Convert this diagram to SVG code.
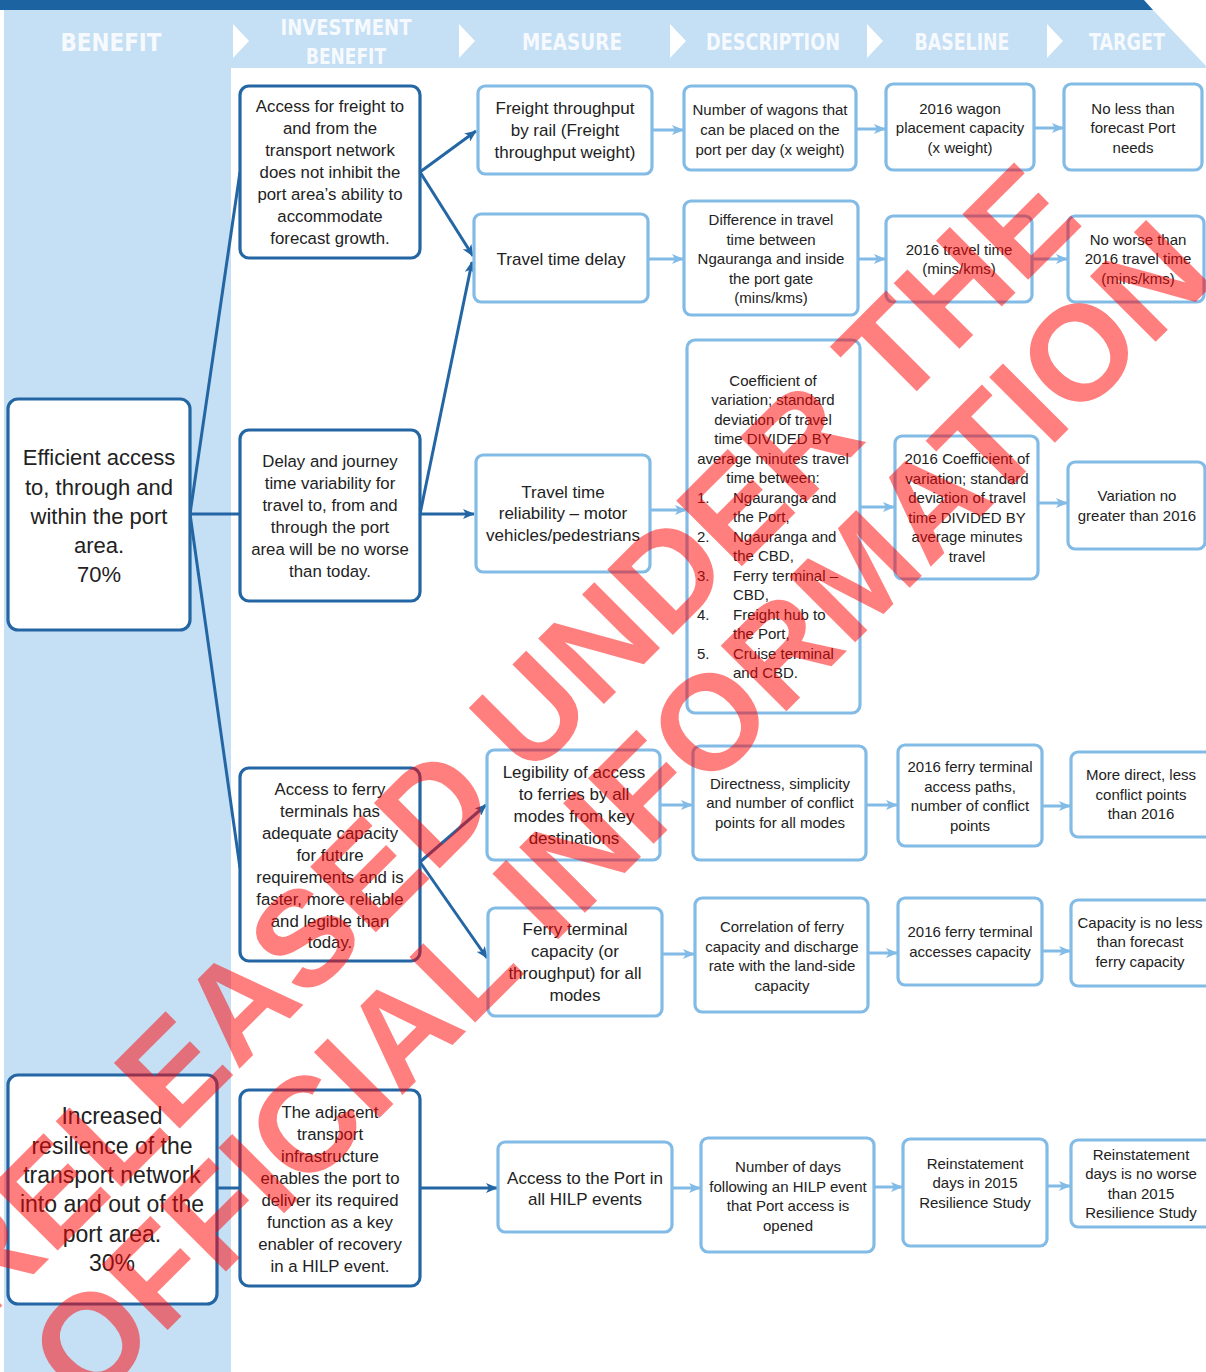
<svg xmlns="http://www.w3.org/2000/svg" width="1206" height="1372" viewBox="0 0 1206 1372">
<defs>
<style>
.dk{fill:#fff;stroke:#2466a3;stroke-width:3.2}
.lt{fill:#fff;stroke:#82bbe6;stroke-width:3.2}
.t{font-family:'Liberation Sans',Arial,sans-serif;fill:#222;text-anchor:middle}
.b22{font-size:22px}
.b23{font-size:23px}
.i{font-size:16.8px}
.m{font-size:17px}
.s{font-size:15px}
.ls{font-family:'Liberation Sans',Arial,sans-serif;fill:#222;font-size:15px}
.hd{font-family:'Liberation Sans Narrow','DejaVu Sans Condensed',sans-serif;fill:#f6fafe;font-weight:bold;text-anchor:middle}
.cd{fill:none;stroke:#2466a3;stroke-width:3}
.cl{fill:none;stroke:#82bbe6;stroke-width:3}
.wm{font-family:'Liberation Sans',Arial,sans-serif;font-weight:bold;font-size:135px;fill:#ff0000;fill-opacity:0.5}
</style>
<marker id="ad" viewBox="0 0 12 10" refX="11" refY="5" markerWidth="12" markerHeight="10" markerUnits="userSpaceOnUse" orient="auto"><path d="M0,0 L12,5 L0,10 L3,5 z" fill="#2466a3"/></marker>
<marker id="al" viewBox="0 0 12 10" refX="11" refY="5" markerWidth="12" markerHeight="12" markerUnits="userSpaceOnUse" orient="auto"><path d="M0,0 L12,5 L0,10 L3,5 z" fill="#82bbe6"/></marker>
</defs>

<g id="background">
<rect x="0" y="0" width="1206" height="1372" fill="#fff"/>
<rect x="4" y="10" width="227" height="1362" fill="#c5dff4"/>
<polygon points="4,10 1153,10 1206,66 1206,68 4,68" fill="#c5dff4"/>
<polygon points="0,0 1144,0 1153,10 0,10" fill="#1c63a2"/>
</g>

<g id="header">
<polygon points="233,24 249,41 233,58" fill="#fff"/>
<polygon points="459,24 475,41 459,58" fill="#fff"/>
<polygon points="670,24 686,41 670,58" fill="#fff"/>
<polygon points="867,24 883,41 867,58" fill="#fff"/>
<polygon points="1047,24 1063,41 1047,58" fill="#fff"/>
<text class="hd" x="111" y="51" font-size="25" textLength="101" lengthAdjust="spacingAndGlyphs">BENEFIT</text>
<text class="hd" x="346" y="35" font-size="21" textLength="131" lengthAdjust="spacingAndGlyphs">INVESTMENT</text>
<text class="hd" x="346" y="64" font-size="21" textLength="80" lengthAdjust="spacingAndGlyphs">BENEFIT</text>
<text class="hd" x="572" y="50" font-size="23" textLength="100" lengthAdjust="spacingAndGlyphs">MEASURE</text>
<text class="hd" x="773" y="50" font-size="23" textLength="134" lengthAdjust="spacingAndGlyphs">DESCRIPTION</text>
<text class="hd" x="962" y="50" font-size="23" textLength="95" lengthAdjust="spacingAndGlyphs">BASELINE</text>
<text class="hd" x="1127" y="50" font-size="23" textLength="76" lengthAdjust="spacingAndGlyphs">TARGET</text>
</g>

<g id="connectors">
<path class="cd" d="M190,514 L240,172"/>
<path class="cd" d="M190,514 L240,514"/>
<path class="cd" d="M190,514 L240,868"/>
<path class="cd" d="M217,1188 L240,1188"/>
<path class="cd" d="M420,172 L476,131" marker-end="url(#ad)"/>
<path class="cd" d="M420,172 L473,256" marker-end="url(#ad)"/>
<path class="cd" d="M420,514 L472,262" marker-end="url(#ad)"/>
<path class="cd" d="M420,514 L474,514" marker-end="url(#ad)"/>
<path class="cd" d="M420,862 L486,805" marker-end="url(#ad)"/>
<path class="cd" d="M420,862 L487,958" marker-end="url(#ad)"/>
<path class="cd" d="M420,1188 L497,1188" marker-end="url(#ad)"/>
<path class="cl" d="M652,130 L683,130" marker-end="url(#al)"/>
<path class="cl" d="M856,129 L885,129" marker-end="url(#al)"/>
<path class="cl" d="M1034,128 L1063,128" marker-end="url(#al)"/>
<path class="cl" d="M648,259 L683,259" marker-end="url(#al)"/>
<path class="cl" d="M858,259 L885,259" marker-end="url(#al)"/>
<path class="cl" d="M1032,259 L1067,259" marker-end="url(#al)"/>
<path class="cl" d="M650,510 L686,510" marker-end="url(#al)"/>
<path class="cl" d="M860,507 L894,507" marker-end="url(#al)"/>
<path class="cl" d="M1038,503 L1067,503" marker-end="url(#al)"/>
<path class="cl" d="M660,805 L692,805" marker-end="url(#al)"/>
<path class="cl" d="M866,805 L897,805" marker-end="url(#al)"/>
<path class="cl" d="M1042,806 L1070,806" marker-end="url(#al)"/>
<path class="cl" d="M662,954 L694,954" marker-end="url(#al)"/>
<path class="cl" d="M868,953 L897,953" marker-end="url(#al)"/>
<path class="cl" d="M1042,951 L1070,951" marker-end="url(#al)"/>
<path class="cl" d="M672,1188 L700,1188" marker-end="url(#al)"/>
<path class="cl" d="M874,1187 L902,1187" marker-end="url(#al)"/>
<path class="cl" d="M1047,1186 L1070,1186" marker-end="url(#al)"/>
</g>

<g id="benefit-efficient">
<rect class="dk" x="8" y="399" width="182" height="231" rx="10"/>
<text class="t b22"><tspan x="99" y="465">Efficient access</tspan><tspan x="99" y="495">to, through and</tspan><tspan x="99" y="524">within the port</tspan><tspan x="99" y="553">area.</tspan><tspan x="99" y="582">70%</tspan></text>
</g>
<g id="benefit-resilience">
<rect class="dk" x="8" y="1075" width="209" height="229" rx="10"/>
<text class="t b23"><tspan x="112" y="1124">Increased</tspan><tspan x="112" y="1154">resilience of the</tspan><tspan x="112" y="1183">transport network</tspan><tspan x="112" y="1212">into and out of the</tspan><tspan x="112" y="1242">port area.</tspan><tspan x="112" y="1271">30%</tspan></text>
</g>

<g id="inv-freight">
<rect class="dk" x="240" y="86" width="180" height="172" rx="9"/>
<text class="t i"><tspan x="330" y="112">Access for freight to</tspan><tspan x="330" y="134">and from the</tspan><tspan x="330" y="156">transport network</tspan><tspan x="330" y="178">does not inhibit the</tspan><tspan x="330" y="200">port area’s ability to</tspan><tspan x="330" y="222">accommodate</tspan><tspan x="330" y="244">forecast growth.</tspan></text>
</g>
<g id="inv-delay">
<rect class="dk" x="240" y="430" width="180" height="171" rx="9"/>
<text class="t i"><tspan x="330" y="467">Delay and journey</tspan><tspan x="330" y="489">time variability for</tspan><tspan x="330" y="511">travel to, from and</tspan><tspan x="330" y="533">through the port</tspan><tspan x="330" y="555">area will be no worse</tspan><tspan x="330" y="577">than today.</tspan></text>
</g>
<g id="inv-ferry">
<rect class="dk" x="240" y="768" width="180" height="193" rx="9"/>
<text class="t i"><tspan x="330" y="795">Access to ferry</tspan><tspan x="330" y="817">terminals has</tspan><tspan x="330" y="839">adequate capacity</tspan><tspan x="330" y="861">for future</tspan><tspan x="330" y="883">requirements and is</tspan><tspan x="330" y="905">faster, more reliable</tspan><tspan x="330" y="927">and legible than</tspan><tspan x="330" y="948">today.</tspan></text>
</g>
<g id="inv-hilp">
<rect class="dk" x="240" y="1090" width="180" height="196" rx="9"/>
<text class="t i"><tspan x="330" y="1118">The adjacent</tspan><tspan x="330" y="1140">transport</tspan><tspan x="330" y="1162">infrastructure</tspan><tspan x="330" y="1184">enables the port to</tspan><tspan x="330" y="1206">deliver its required</tspan><tspan x="330" y="1228">function as a key</tspan><tspan x="330" y="1250">enabler of recovery</tspan><tspan x="330" y="1272">in a HILP event.</tspan></text>
</g>

<g id="m-freight">
<rect class="lt" x="478" y="86" width="174" height="88" rx="7"/>
<text class="t m"><tspan x="565" y="114">Freight throughput</tspan><tspan x="565" y="136">by rail (Freight</tspan><tspan x="565" y="158">throughput weight)</tspan></text>
</g>
<g id="m-delay">
<rect class="lt" x="474" y="214" width="174" height="88" rx="7"/>
<text class="t m"><tspan x="561" y="265">Travel time delay</tspan></text>
</g>
<g id="m-reliability">
<rect class="lt" x="476" y="455" width="174" height="117" rx="7"/>
<text class="t m"><tspan x="563" y="498">Travel time</tspan><tspan x="563" y="519">reliability – motor</tspan><tspan x="563" y="541">vehicles/pedestrians</tspan></text>
</g>
<g id="m-legibility">
<rect class="lt" x="487" y="750" width="173" height="110" rx="7"/>
<text class="t m"><tspan x="574" y="778">Legibility of access</tspan><tspan x="574" y="800">to ferries by all</tspan><tspan x="574" y="822">modes from key</tspan><tspan x="574" y="844">destinations</tspan></text>
</g>
<g id="m-ferrycap">
<rect class="lt" x="488" y="908" width="174" height="108" rx="7"/>
<text class="t m"><tspan x="575" y="935">Ferry terminal</tspan><tspan x="575" y="957">capacity (or</tspan><tspan x="575" y="979">throughput) for all</tspan><tspan x="575" y="1001">modes</tspan></text>
</g>
<g id="m-hilp">
<rect class="lt" x="498" y="1142" width="174" height="90" rx="7"/>
<text class="t m"><tspan x="585" y="1184">Access to the Port in</tspan><tspan x="585" y="1205">all HILP events</tspan></text>
</g>

<g id="d-wagons">
<rect class="lt" x="684" y="86" width="172" height="84" rx="7"/>
<text class="t s"><tspan x="770" y="115">Number of wagons that</tspan><tspan x="770" y="135">can be placed on the</tspan><tspan x="770" y="155">port per day (x weight)</tspan></text>
</g>
<g id="d-travel">
<rect class="lt" x="684" y="201" width="174" height="114" rx="7"/>
<text class="t s"><tspan x="771" y="225">Difference in travel</tspan><tspan x="771" y="245">time between</tspan><tspan x="771" y="264">Ngauranga and inside</tspan><tspan x="771" y="284">the port gate</tspan><tspan x="771" y="303">(mins/kms)</tspan></text>
</g>
<g id="d-coefficient">
<rect class="lt" x="687" y="340" width="173" height="373" rx="8"/>
<text class="t s"><tspan x="773" y="386">Coefficient of</tspan><tspan x="773" y="405">variation; standard</tspan><tspan x="773" y="425">deviation of travel</tspan><tspan x="773" y="444">time DIVIDED BY</tspan><tspan x="773" y="464">average minutes travel</tspan><tspan x="773" y="483">time between:</tspan></text>
<text class="ls"><tspan x="697" y="503">1.</tspan><tspan x="733" y="503">Ngauranga and</tspan><tspan x="733" y="522">the Port,</tspan><tspan x="697" y="542">2.</tspan><tspan x="733" y="542">Ngauranga and</tspan><tspan x="733" y="561">the CBD,</tspan><tspan x="697" y="581">3.</tspan><tspan x="733" y="581">Ferry terminal –</tspan><tspan x="733" y="600">CBD,</tspan><tspan x="697" y="620">4.</tspan><tspan x="733" y="620">Freight hub to</tspan><tspan x="733" y="639">the Port,</tspan><tspan x="697" y="659">5.</tspan><tspan x="733" y="659">Cruise terminal</tspan><tspan x="733" y="678">and CBD.</tspan></text>
</g>
<g id="d-directness">
<rect class="lt" x="693" y="746" width="173" height="114" rx="7"/>
<text class="t s"><tspan x="780" y="789">Directness, simplicity</tspan><tspan x="780" y="808">and number of conflict</tspan><tspan x="780" y="828">points for all modes</tspan></text>
</g>
<g id="d-correlation">
<rect class="lt" x="695" y="898" width="173" height="114" rx="7"/>
<text class="t s"><tspan x="782" y="932">Correlation of ferry</tspan><tspan x="782" y="952">capacity and discharge</tspan><tspan x="782" y="971">rate with the land-side</tspan><tspan x="782" y="991">capacity</tspan></text>
</g>
<g id="d-days">
<rect class="lt" x="701" y="1138" width="173" height="114" rx="7"/>
<text class="t s"><tspan x="788" y="1172">Number of days</tspan><tspan x="788" y="1192">following an HILP event</tspan><tspan x="788" y="1211">that Port access is</tspan><tspan x="788" y="1231">opened</tspan></text>
</g>

<g id="b-wagon">
<rect class="lt" x="886" y="84" width="148" height="86" rx="7"/>
<text class="t s"><tspan x="960" y="114">2016 wagon</tspan><tspan x="960" y="133">placement capacity</tspan><tspan x="960" y="153">(x weight)</tspan></text>
</g>
<g id="b-travel">
<rect class="lt" x="886" y="216" width="146" height="86" rx="7"/>
<text class="t s"><tspan x="959" y="255">2016 travel time</tspan><tspan x="959" y="274">(mins/kms)</tspan></text>
</g>
<g id="b-coefficient">
<rect class="lt" x="895" y="436" width="143" height="143" rx="7"/>
<text class="t s"><tspan x="967" y="464">2016 Coefficient of</tspan><tspan x="967" y="484">variation; standard</tspan><tspan x="967" y="503">deviation of travel</tspan><tspan x="967" y="523">time DIVIDED BY</tspan><tspan x="967" y="542">average minutes</tspan><tspan x="967" y="562">travel</tspan></text>
</g>
<g id="b-paths">
<rect class="lt" x="898" y="745" width="144" height="101" rx="7"/>
<text class="t s"><tspan x="970" y="772">2016 ferry terminal</tspan><tspan x="970" y="792">access paths,</tspan><tspan x="970" y="811">number of conflict</tspan><tspan x="970" y="831">points</tspan></text>
</g>
<g id="b-capacity">
<rect class="lt" x="898" y="898" width="144" height="87" rx="7"/>
<text class="t s"><tspan x="970" y="937">2016 ferry terminal</tspan><tspan x="970" y="957">accesses capacity</tspan></text>
</g>
<g id="b-reinstatement">
<rect class="lt" x="903" y="1139" width="144" height="107" rx="7"/>
<text class="t s"><tspan x="975" y="1169">Reinstatement</tspan><tspan x="975" y="1188">days in 2015</tspan><tspan x="975" y="1208">Resilience Study</tspan></text>
</g>

<g id="t-port">
<rect class="lt" x="1064" y="84" width="138" height="86" rx="7"/>
<text class="t s"><tspan x="1133" y="114">No less than</tspan><tspan x="1133" y="133">forecast Port</tspan><tspan x="1133" y="153">needs</tspan></text>
</g>
<g id="t-travel">
<rect class="lt" x="1068" y="216" width="136" height="86" rx="7"/>
<text class="t s"><tspan x="1138" y="245">No worse than</tspan><tspan x="1138" y="264">2016 travel time</tspan><tspan x="1138" y="284">(mins/kms)</tspan></text>
</g>
<g id="t-variation">
<rect class="lt" x="1068" y="462" width="137" height="87" rx="7"/>
<text class="t s"><tspan x="1137" y="501">Variation no</tspan><tspan x="1137" y="521">greater than 2016</tspan></text>
</g>
<g id="t-direct">
<rect class="lt" x="1071" y="752" width="142" height="85" rx="7"/>
<text class="t s"><tspan x="1141" y="780">More direct, less</tspan><tspan x="1141" y="800">conflict points</tspan><tspan x="1141" y="819">than 2016</tspan></text>
</g>
<g id="t-capacity">
<rect class="lt" x="1071" y="900" width="142" height="86" rx="7"/>
<text class="t s"><tspan x="1140" y="928">Capacity is no less</tspan><tspan x="1140" y="947">than forecast</tspan><tspan x="1140" y="967">ferry capacity</tspan></text>
</g>
<g id="t-reinstatement">
<rect class="lt" x="1071" y="1140" width="142" height="87" rx="7"/>
<text class="t s"><tspan x="1141" y="1160">Reinstatement</tspan><tspan x="1141" y="1179">days is no worse</tspan><tspan x="1141" y="1199">than 2015</tspan><tspan x="1141" y="1218">Resilience Study</tspan></text>
</g>

<g id="watermark" transform="rotate(-45)">
<text class="wm" x="-950" y="925">RELEASED UNDER THE</text>
<text class="wm" x="-936" y="1059">OFFICIAL INFORMATION</text>
</g>
</svg>
